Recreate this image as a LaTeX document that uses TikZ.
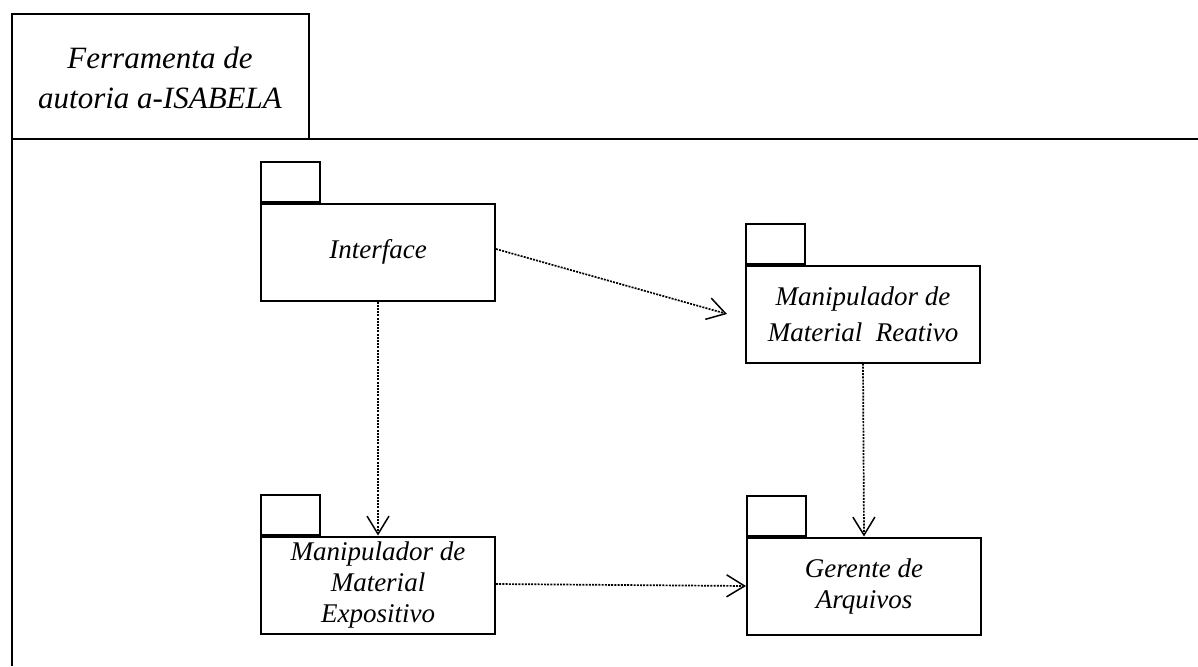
\documentclass[tikz,border=0pt]{standalone}
\usepackage{fontspec}
\setmainfont{Liberation Serif}
\usetikzlibrary{arrows.meta}
\begin{document}
\begin{tikzpicture}[x=1pt,y=-1pt,
  frameline/.style={line width=2.2pt},
  pkgbody/.style={draw, line width=2pt, minimum width=234pt, minimum height=97pt,
    inner sep=0pt, align=center, font=\fontsize{27}{31}\selectfont\itshape},
  pkgtab/.style={draw, line width=2pt, minimum width=59pt, minimum height=40pt,
    inner sep=0pt, anchor=south west},
  dep/.style={line width=1.7pt, dash pattern=on 2pt off 1.2pt,
    -{Straight Barb[length=18pt,width=22pt,line width=1.5pt,line cap=butt]}},
]
\useasboundingbox (0,0) rectangle (1198,666);

% outer frame with its name tab
\draw[frameline] (12,666) -- (12,14) -- (309,14) -- (309,139);
\draw[frameline] (12,139) -- (1198,139);
\node[font=\fontsize{31}{40}\selectfont\itshape, align=center] (title) at (160,78)
  {Ferramenta de\\autoria a-ISABELA};

% packages
\node[pkgbody] (int) at (378,252) {Interface};
\node[pkgtab] (intTab) at (int.north west) {};

\node[pkgbody, font=\fontsize{27}{36}\selectfont\itshape] (rea) at (863,314)
  {Manipulador de\\Material\enspace Reativo};
\node[pkgtab] (reaTab) at (rea.north west) {};

\node[pkgbody] (exp) at (378,585) {Manipulador de\\Material\\Expositivo};
\node[pkgtab] (expTab) at (exp.north west) {};

\node[pkgbody] (ger) at (864,586) {Gerente de\\Arquivos};
\node[pkgtab] (gerTab) at (ger.north west) {};

% dependencies
\coordinate (reaIn) at ([xshift=-18pt]rea.west);
\draw[dep] ([yshift=3pt]int.east) -- (reaIn);
\draw[dep] (int.south) -- (exp.north);
\draw[dep] (rea.south) -- (ger.north);
\draw[dep] ([yshift=1pt]exp.east) -- (ger.west);
\end{tikzpicture}
\end{document}
